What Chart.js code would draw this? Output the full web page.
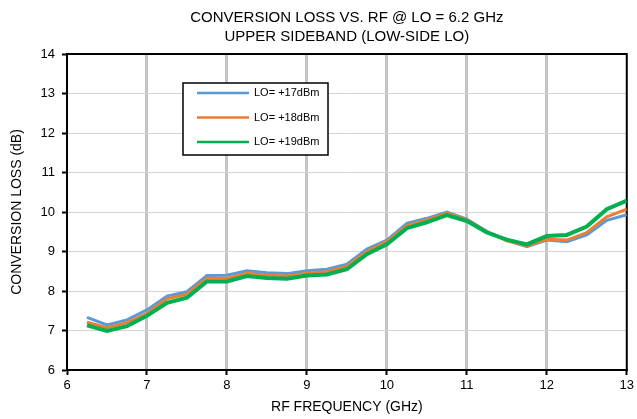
<!DOCTYPE html>
<html>
<head>
<meta charset="utf-8">
<script src="https://cdn.jsdelivr.net/npm/chart.js@4/dist/chart.umd.min.js"></script>
<style>
  html, body { margin: 0; padding: 0; background: #fff; }
  #wrap { width: 637px; height: 419px; position: relative; }
</style>
</head>
<body>
<div id="wrap"><canvas id="c" width="637" height="419"></canvas></div>
<script>
// RF frequency (GHz)
const freqGHz = [6.25, 6.5, 6.75, 7.0, 7.25, 7.5, 7.75, 8.0, 8.25, 8.5, 8.75, 9.0, 9.25, 9.5,
                 9.75, 10.0, 10.25, 10.5, 10.75, 11.0, 11.25, 11.5, 11.75, 12.0, 12.25, 12.5, 12.75, 13.0];

// Conversion loss (dB) per LO drive level
const lossLO17 = [7.33, 7.14, 7.27, 7.52, 7.87, 7.98, 8.39, 8.40, 8.51, 8.46, 8.44, 8.51, 8.55, 8.68,
                  9.06, 9.29, 9.71, 9.84, 10.00, 9.82, 9.51, 9.29, 9.12, 9.29, 9.25, 9.42, 9.79, 9.93];
const lossLO18 = [7.21, 7.07, 7.20, 7.43, 7.80, 7.92, 8.32, 8.32, 8.45, 8.40, 8.38, 8.45, 8.49, 8.62,
                  9.00, 9.25, 9.65, 9.80, 9.97, 9.80, 9.50, 9.27, 9.14, 9.31, 9.29, 9.48, 9.88, 10.07];
const lossLO19 = [7.13, 6.99, 7.11, 7.37, 7.70, 7.83, 8.24, 8.24, 8.38, 8.33, 8.31, 8.39, 8.42, 8.55,
                  8.93, 9.18, 9.59, 9.74, 9.92, 9.77, 9.48, 9.30, 9.18, 9.39, 9.42, 9.63, 10.07, 10.29];

const seriesLabels = ['LO= +17dBm', 'LO= +18dBm', 'LO= +19dBm'];
const seriesColors = ['#5b9bd5', '#ed7d31', '#00b050'];
const seriesWidths = [3, 3, 4];

const titleLines = ['CONVERSION LOSS VS. RF @ LO = 6.2 GHz', 'UPPER SIDEBAND (LOW-SIDE LO)'];
const xTitle = 'RF FREQUENCY (GHz)';
const yTitle = 'CONVERSION LOSS (dB)';

const FONT = "'Liberation Sans', Arial, sans-serif";

function toPoints(vals) {
  return freqGHz.map((f, i) => ({ x: f, y: vals[i] }));
}

const datasets = [lossLO17, lossLO18, lossLO19].map((vals, i) => ({
  label: seriesLabels[i],
  data: toPoints(vals),
  borderColor: seriesColors[i],
  backgroundColor: seriesColors[i],
  borderWidth: seriesWidths[i],
  pointRadius: 0,
  tension: 0,
  fill: false,
  order: 3 - i
}));

// Two-line heading centred over the plot area
const headingPlugin = {
  id: 'heading',
  afterDraw(chart) {
    const { ctx, chartArea } = chart;
    const cx = (chartArea.left + chartArea.right) / 2;
    ctx.save();
    ctx.fillStyle = '#000';
    ctx.font = '15px ' + FONT;
    ctx.textAlign = 'center';
    ctx.textBaseline = 'middle';
    ctx.fillText(titleLines[0], cx, 18);
    ctx.fillText(titleLines[1], cx, 37);
    ctx.restore();
  }
};

// Black frame around the plotting region
const framePlugin = {
  id: 'frame',
  beforeDatasetsDraw(chart) {
    const { ctx, chartArea: a } = chart;
    ctx.save();
    ctx.strokeStyle = '#000';
    ctx.lineWidth = 2;
    ctx.strokeRect(a.left, a.top, a.right - a.left, a.bottom - a.top);
    ctx.restore();
  }
};

// Boxed legend placed inside the plot
const boxLegendPlugin = {
  id: 'boxLegend',
  afterDatasetsDraw(chart) {
    const { ctx } = chart;
    const bx = 183, by = 83, bw = 145, bh = 72;
    ctx.save();
    ctx.fillStyle = '#fff';
    ctx.fillRect(bx, by, bw, bh);
    ctx.strokeStyle = '#000';
    ctx.lineWidth = 1.5;
    ctx.strokeRect(bx, by, bw, bh);
    ctx.font = '11px ' + FONT;
    ctx.textBaseline = 'middle';
    ctx.textAlign = 'left';
    chart.data.datasets.forEach((ds, i) => {
      const y = by + 10 + i * 24.5;
      ctx.strokeStyle = ds.borderColor;
      ctx.lineWidth = 2.5;
      ctx.beginPath();
      ctx.moveTo(bx + 14, y);
      ctx.lineTo(bx + 66, y);
      ctx.stroke();
      ctx.fillStyle = '#000';
      ctx.fillText(ds.label, bx + 71, y);
    });
    ctx.restore();
  }
};

new Chart(document.getElementById('c'), {
  type: 'line',
  data: { datasets },
  options: {
    responsive: false,
    animation: false,
    layout: { padding: { top: 54, right: 9, left: 0, bottom: 0 } },
    plugins: {
      legend: { display: false },
      title: { display: false },
      tooltip: { enabled: false }
    },
    scales: {
      x: {
        type: 'linear',
        min: 6, max: 13,
        afterFit(s) { s.height = 49; },
        ticks: {
          stepSize: 1,
          color: '#000',
          font: { family: FONT, size: 13 },
          padding: 3,
          maxRotation: 0
        },
        grid: {
          color: (c) => (c.tick && (c.tick.value === 6 || c.tick.value === 13)) ? 'rgba(0,0,0,0)' : '#c4c4c4',
          lineWidth: 3,
          tickColor: '#000',
          tickWidth: 2,
          tickLength: 5
        },
        border: { display: true, color: '#000', width: 2 },
        title: {
          display: true,
          text: xTitle,
          color: '#000',
          font: { family: FONT, size: 14 },
          padding: { top: 0, bottom: 3 }
        }
      },
      y: {
        min: 6, max: 14,
        afterFit(s) { s.width = 67; },
        ticks: {
          stepSize: 1,
          color: '#000',
          font: { family: FONT, size: 13 },
          padding: 7
        },
        grid: {
          color: '#d4d4d4',
          lineWidth: 1,
          tickColor: '#000',
          tickWidth: 2,
          tickLength: 5
        },
        border: { display: true, color: '#000', width: 2 },
        title: {
          display: true,
          text: yTitle,
          color: '#000',
          font: { family: FONT, size: 14 },
          padding: { top: 9, bottom: 0 }
        }
      }
    }
  },
  plugins: [headingPlugin, framePlugin, boxLegendPlugin]
});
</script>
</body>
</html>
